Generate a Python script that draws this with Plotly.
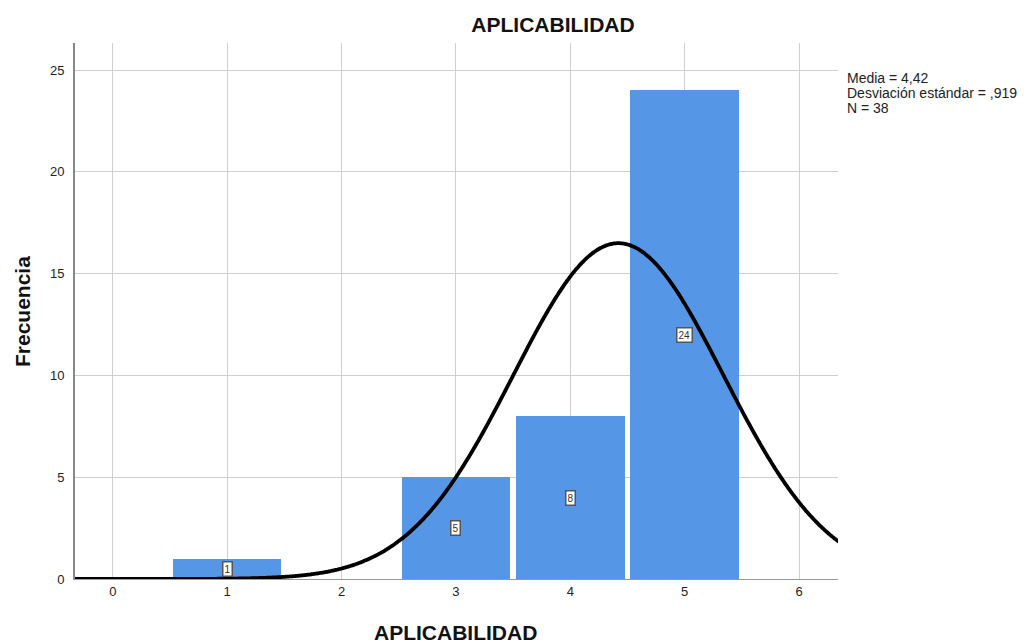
"""Histograma APLICABILIDAD con curva normal"""
import numpy as np
import plotly.graph_objects as go

# datos
categorias = [1, 2, 3, 4, 5]
frecuencias = [1, 0, 5, 8, 24]
media = 4.42
desv = 0.919
n_total = 38
ticks_x = [0, 1, 2, 3, 4, 5, 6]
ticks_y = [0, 5, 10, 15, 20, 25]
lineas_stats = ["Media = 4,42", "Desviación estándar = ,919", "N = 38"]

FONT = "Liberation Sans, Arial, sans-serif"
AZUL = "#5596E6"
L, R, T, B = 75, 188, 43, 64
W, H = 1026, 643
PW, PH = W - L - R, H - T - B

fig = go.Figure()

# barras del histograma (solo las no vacías)
xs = [c for c, f in zip(categorias, frecuencias) if f > 0]
ys = [f for f in frecuencias if f > 0]
fig.add_trace(go.Bar(
    x=xs, y=ys, width=0.95,
    marker=dict(color=AZUL, line=dict(width=0)),
    hoverinfo="x+y", showlegend=False,
))

# curva normal ajustada (media, desviación, N, ancho de intervalo 1)
xc = np.linspace(-0.5, 6.5, 600)
yc = n_total * 1.0 / (desv * np.sqrt(2 * np.pi)) * np.exp(-0.5 * ((xc - media) / desv) ** 2)
fig.add_trace(go.Scatter(
    x=xc, y=yc, mode="lines",
    line=dict(color="black", width=3.8, shape="spline"),
    hoverinfo="skip", showlegend=False,
))

# etiquetas de frecuencia en cajas
for x, y in zip(xs, ys):
    fig.add_annotation(
        x=x, y=y / 2, text=str(y), showarrow=False,
        font=dict(family=FONT, size=10, color="#333"),
        bgcolor="white", bordercolor="#555", borderwidth=1.5, borderpad=1,
    )

# estadísticos
for i, txt in enumerate(lineas_stats):
    fig.add_annotation(
        xref="paper", yref="paper", x=(845 - L) / PW, xanchor="left",
        y=1 - (78 + 15 * i - T) / PH, yanchor="middle",
        text=txt, showarrow=False, align="left",
        font=dict(family=FONT, size=14, color="#222"),
    )

# títulos de ejes
fig.add_annotation(
    xref="paper", yref="paper", x=(455 - L) / PW, y=-(632 - (T + PH)) / PH,
    xanchor="center", yanchor="middle", showarrow=False,
    text="<b>APLICABILIDAD</b>", font=dict(family=FONT, size=21, color="#111"),
)
fig.add_annotation(
    xref="paper", yref="paper", x=-(L - 22) / PW, y=1 - (312 - T) / PH,
    xanchor="center", yanchor="middle", showarrow=False, textangle=-90,
    text="<b>Frecuencia</b>", font=dict(family=FONT, size=21, color="#111"),
)

fig.update_layout(
    width=W, height=H,
    margin=dict(l=L, r=R, t=T, b=B),
    paper_bgcolor="white", plot_bgcolor="white",
    title=dict(text="<b>APLICABILIDAD</b>", x=(553 - L) / PW, xref="paper", xanchor="center",
               y=1 - 25 / H, yanchor="middle",
               font=dict(family=FONT, size=21, color="#111")),
    bargap=0,
    font=dict(family=FONT),
)

fig.update_xaxes(
    range=[-0.33, 6.34], tickvals=ticks_x, automargin=False,
    showgrid=True, gridcolor="#CFCFCF", gridwidth=1,
    zeroline=False, showline=True, linecolor="#999", linewidth=1,
    tickfont=dict(family=FONT, size=13, color="#222"),
)
fig.update_yaxes(
    range=[0, 26.33], tickvals=ticks_y, automargin=False,
    showgrid=True, gridcolor="#CFCFCF", gridwidth=1,
    zeroline=False, showline=True, linecolor="#888", linewidth=2,
    ticks="", ticklabelstandoff=6,
    tickfont=dict(family=FONT, size=13, color="#222"),
)

# quitar el margen del body para que la figura empiece en (0, 0)
fig.write_html(
    "out.html",
    config={"displayModeBar": False},
    post_script="document.body.style.margin='0px';",
)
